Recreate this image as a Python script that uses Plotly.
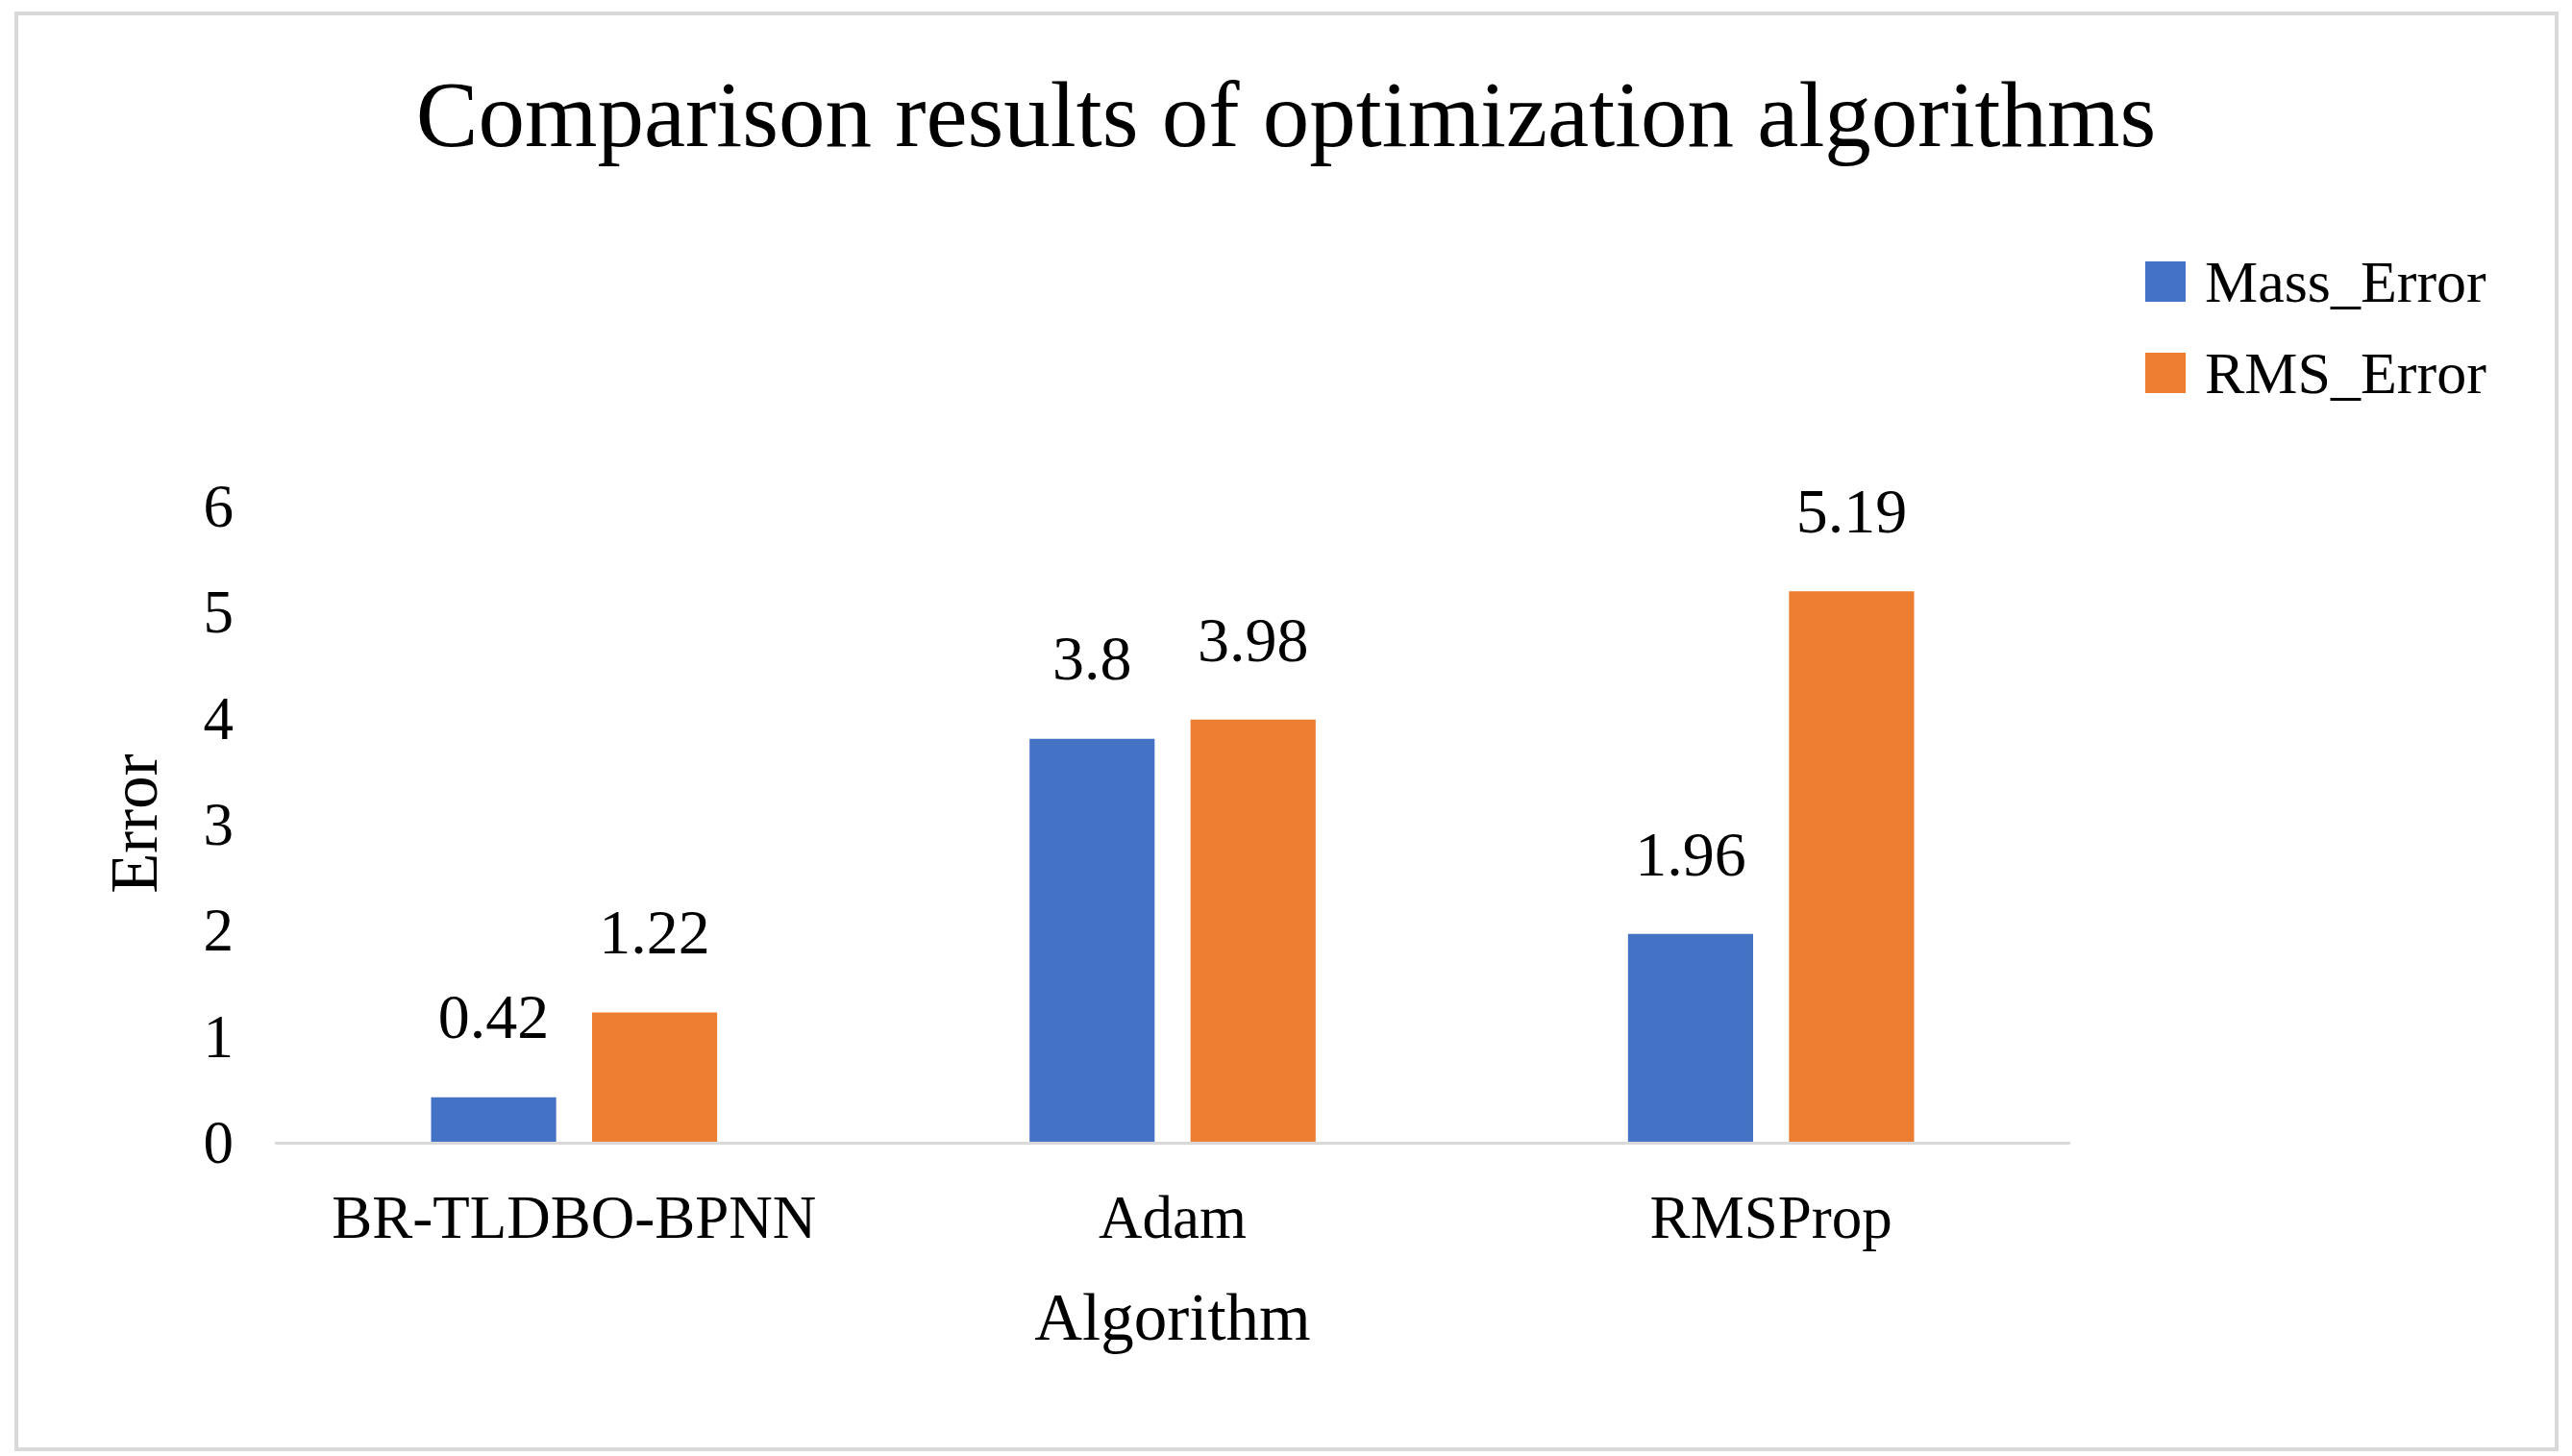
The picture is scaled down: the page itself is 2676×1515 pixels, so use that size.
import plotly.graph_objects as go

# ---- data ----
categories = ["BR-TLDBO-BPNN", "Adam", "RMSProp"]
series_names = ["Mass_Error", "RMS_Error"]
mass_error = [0.42, 3.8, 1.96]
rms_error = [1.22, 3.98, 5.19]
y_ticks = [0, 1, 2, 3, 4, 5, 6]

colors = ["#4472C4", "#ED7D31"]
FONT = "Liberation Serif"
W, H = 2676, 1515
L, R, T, B = 286, 522, 526, 327
PW, PH = W - L - R, H - T - B
BARGAP = 0.462


def px_x(px):
    return (px - L) / PW


def px_y(py):
    return (H - B - py) / PH


fig = go.Figure()
for name, vals, col in zip(series_names, [mass_error, rms_error], colors):
    fig.add_trace(go.Bar(
        x=categories, y=vals, name=name, marker=dict(color=col, line=dict(width=0)),
        offsetgroup=name, showlegend=False, hoverinfo="skip",
    ))
for name, vals in zip(series_names, [mass_error, rms_error]):
    fig.add_trace(go.Scatter(
        x=categories, y=vals, mode="markers+text", text=[str(v) for v in vals],
        textposition="top center", offsetgroup=name,
        marker=dict(size=70, opacity=0), textfont=dict(family=FONT, size=66, color="black"),
        showlegend=False, hoverinfo="skip", cliponaxis=False,
    ))

shapes = [
    dict(type="rect", xref="paper", yref="paper",
         x0=px_x(17), x1=px_x(2660), y0=px_y(1508), y1=px_y(14),
         line=dict(color="#D9D9D9", width=4), fillcolor="rgba(0,0,0,0)", layer="below"),
]
annotations = []
legend_rows = [293, 388]
for name, col, cy in zip(series_names, colors, legend_rows):
    shapes.append(dict(type="rect", xref="paper", yref="paper",
                       x0=px_x(2232), x1=px_x(2274), y0=px_y(cy + 21), y1=px_y(cy - 21),
                       fillcolor=col, line=dict(width=0)))
    annotations.append(dict(xref="paper", yref="paper", x=px_x(2292), y=px_y(cy),
                            xanchor="left", yanchor="middle", text=name, showarrow=False,
                            font=dict(family=FONT, size=62, color="black")))

fig.update_layout(
    width=W, height=H,
    margin=dict(l=L, r=R, t=T, b=B),
    paper_bgcolor="white", plot_bgcolor="white",
    barmode="group", bargap=BARGAP, bargroupgap=0.223,
    scattermode="group", scattergap=BARGAP,
    title=dict(text="Comparison results of optimization algorithms", x=0.5, xanchor="center",
               xref="container", y=1 - 118 / H, yanchor="middle",
               font=dict(family=FONT, size=97, color="black")),
    xaxis=dict(showgrid=False, showline=True, linecolor="#D9D9D9", linewidth=3,
               ticks="", ticklabelstandoff=21,
               tickfont=dict(family=FONT, size=63, color="black"),
               title=dict(text="Algorithm", standoff=46, font=dict(family=FONT, size=69, color="black"))),
    yaxis=dict(range=[0, 6], tickvals=y_ticks, showgrid=False, showline=False, zeroline=False,
               ticks="", ticklabelstandoff=42,
               tickfont=dict(family=FONT, size=63, color="black"),
               title=dict(text="Error", standoff=25, font=dict(family=FONT, size=69, color="black"))),
    shapes=shapes, annotations=annotations,
    showlegend=False,
)

fig.write_html("out.html", config={"displayModeBar": False},
               post_script="document.body.style.margin='0';document.body.style.overflow='hidden';")
